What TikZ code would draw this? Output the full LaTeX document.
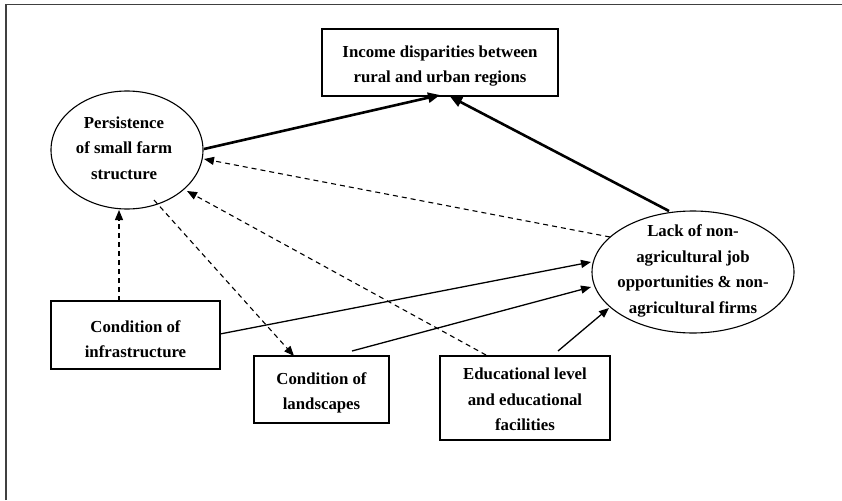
\documentclass[tikz,border=0pt]{standalone}
\usepackage{fontspec}
\setmainfont{Liberation Serif}
\usetikzlibrary{arrows.meta}
\begin{document}
\begin{tikzpicture}[x=1pt,y=-1pt,
  txt/.style={font=\bfseries\fontsize{16.8}{25.5}\selectfont, align=center, text=black},
  boxn/.style={txt, draw, line width=1.2pt, inner sep=0pt},
  elln/.style={draw, line width=1.1pt, ellipse, inner sep=0pt},
  tip/.style={-{Triangle[length=10pt,width=8pt]}},
  thickarr/.style={tip, line width=2.6pt, -{Triangle[length=12pt,width=10pt]}},
  thinarr/.style={tip, line width=1.3pt},
  dasharr/.style={tip, line width=1.1pt, dash pattern=on 5pt off 4pt}
]
\useasboundingbox (0,0) rectangle (842,500);
% frame
\draw[line width=1.6pt, color=black!75] (6,500) -- (6,4.5) -- (842,4.5);

% nodes
\node[boxn, minimum width=236pt, minimum height=67pt] (inc) at (440,62.5) {};
\node[txt] (inct) at (440,66) {Income disparities between\\rural and urban regions};

\draw[line width=1.1pt] (127,150) ellipse [x radius=76, y radius=59];
\coordinate (pers) at (127,150);
\node[txt] (perst) at (124,148) {Persistence\\of small farm\\structure};

\draw[line width=1.1pt] (693,272) ellipse [x radius=101, y radius=61];
\coordinate (lack) at (693,272);
\node[txt] (lackt) at (693,271) {Lack of non-\\agricultural job\\opportunities \& non-\\agricultural firms};

\node[boxn, minimum width=169pt, minimum height=68pt] (inf) at (135.5,335) {};
\node[txt] (inft) at (135.5,339) {Condition of\\infrastructure};

\node[boxn, minimum width=135pt, minimum height=67pt] (lan) at (321.5,389.5) {};
\node[txt] (lant) at (321.5,393) {Condition of\\landscapes};

\node[boxn, minimum width=170pt, minimum height=84pt] (edu) at (525,398) {};
\node[txt] (edut) at (525,399.5) {Educational level\\and educational\\facilities};

% connector end points
\coordinate (pI) at (204,149);
\coordinate (iP) at (440,95);
\coordinate (lI) at (669,211);
\coordinate (iL) at (450,96.5);
\coordinate (lP) at (610,237);
\coordinate (pL) at (204,159);
\coordinate (eP) at (486,355);
\coordinate (pE) at (187,191);
\coordinate (pLs) at (154,200);
\coordinate (lsP) at (294,356);
\coordinate (infP) at (119,301);
\coordinate (pInf) at (119,210);
\coordinate (infL) at (220,334);
\coordinate (lInf) at (591,262);
\coordinate (lsL) at (352,351);
\coordinate (lLs) at (591,287);
\coordinate (eL) at (558,351);
\coordinate (lE) at (609,308);

% connectors
\draw[thickarr] (pI) -- (iP);
\draw[thickarr] (lI) -- (iL);
\draw[dasharr] (lP) -- (pL);
\draw[dasharr] (eP) -- (pE);
\draw[dasharr] (pLs) -- (lsP);
\draw[dasharr] (infP) -- (pInf);
\draw[thinarr] (infL) -- (lInf);
\draw[thinarr] (lsL) -- (lLs);
\draw[thinarr] (eL) -- (lE);
\end{tikzpicture}
\end{document}
